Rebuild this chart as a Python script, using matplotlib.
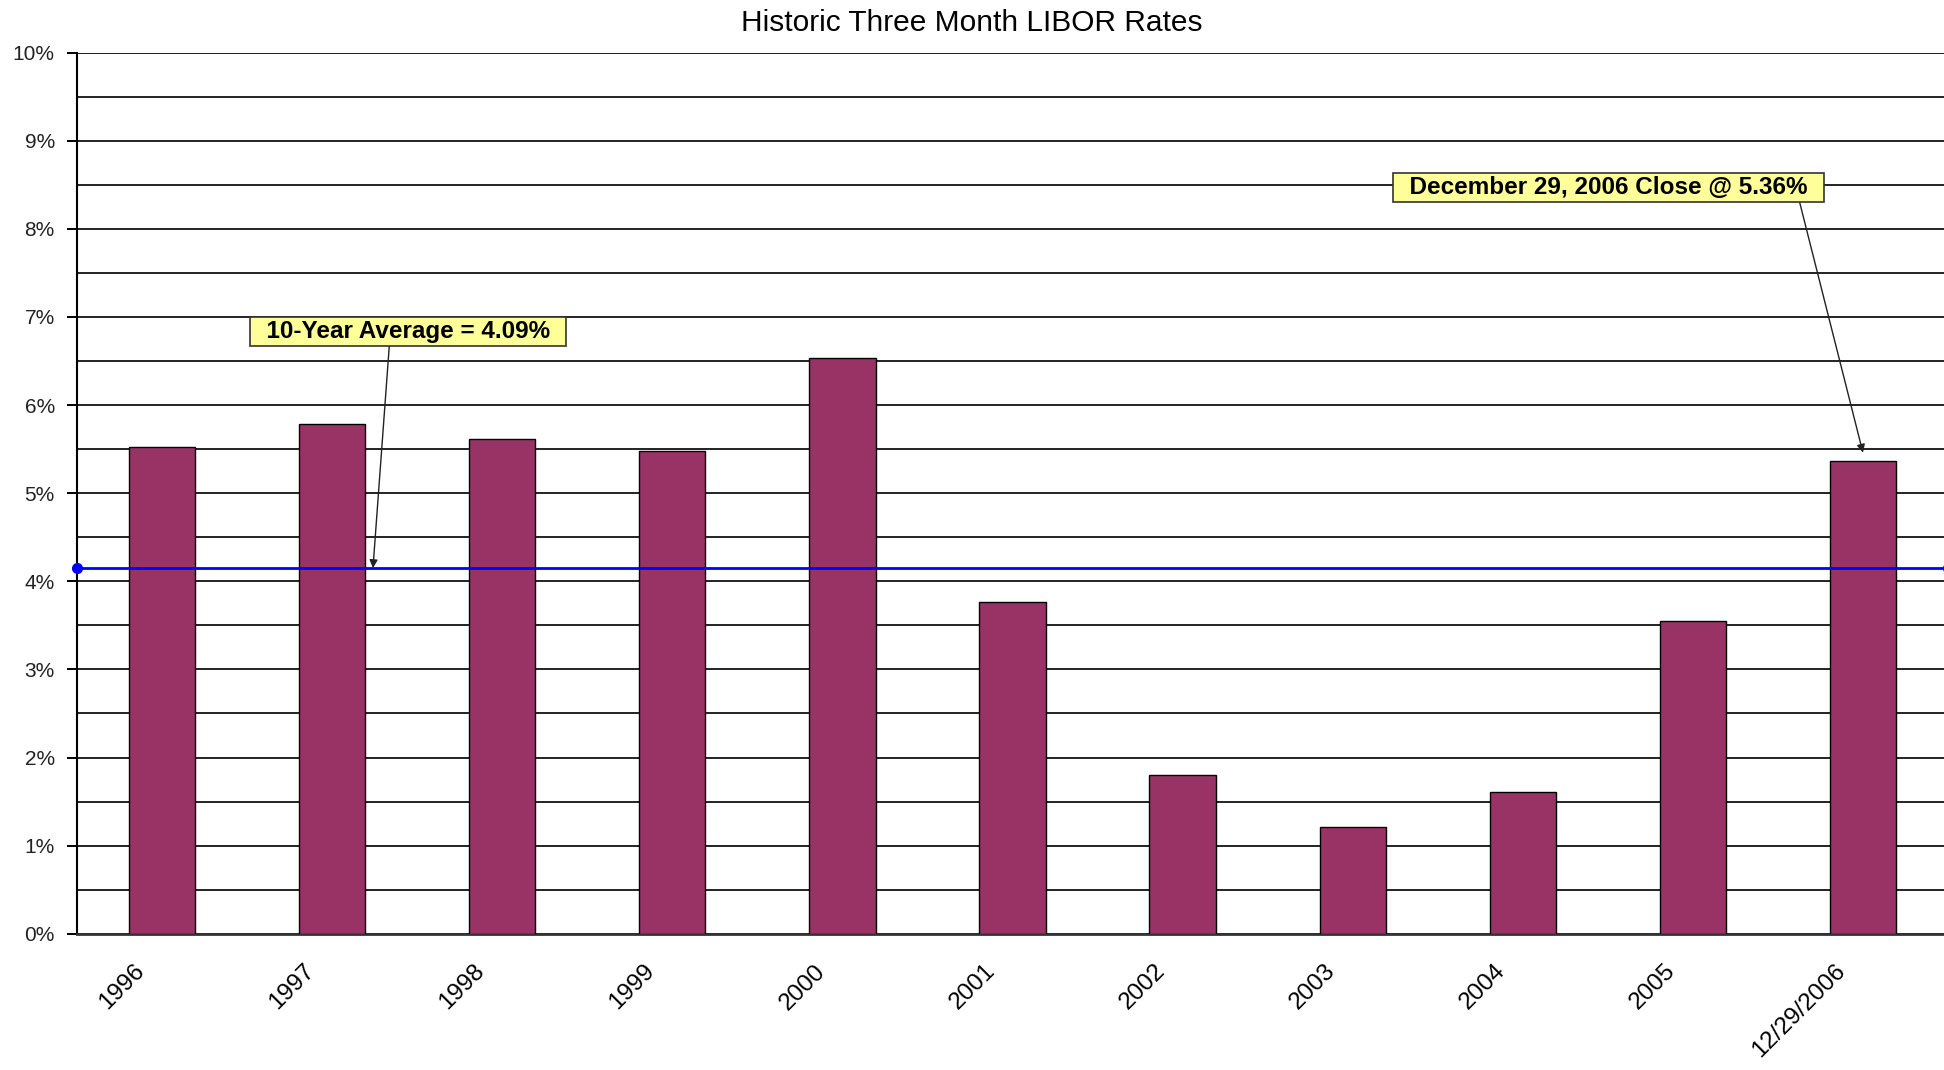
import matplotlib
matplotlib.use("Agg")
from matplotlib import pyplot as plt
from matplotlib.ticker import MultipleLocator, FuncFormatter
import matplotlib.transforms as mtransforms
import numpy as np

plt.rcParams['font.family'] = ['Liberation Sans', 'DejaVu Sans']

# data
years = ['1996', '1997', '1998', '1999', '2000', '2001', '2002', '2003', '2004', '2005', '12/29/2006']
rates = [5.53, 5.79, 5.61, 5.48, 6.54, 3.77, 1.80, 1.21, 1.61, 3.55, 5.36]
avg_rate = 4.15          # where the blue line sits on the chart
avg_label = '10-Year Average = 4.09%'
close_label = 'December 29, 2006 Close @ 5.36%'

bar_color = '#993366'

fig = plt.figure(figsize=(19.44, 10.70), dpi=100)
ax = fig.add_axes([77/1944, 136.3/1070, 1871/1944, 881/1070])

x = np.arange(len(years))
ax.bar(x, rates, width=0.39, color=bar_color, edgecolor='black', linewidth=1.0, zorder=3)

# average line with dots at both ends
ax.plot([-0.5, len(years) - 0.5], [avg_rate, avg_rate], color='#0000ff', lw=2.0,
        marker='o', markersize=7, zorder=4, clip_on=False)

ax.set_xlim(-0.5, len(years) - 0.5)
ax.set_ylim(0, 10)

# gridlines every half percent
ax.yaxis.set_major_locator(MultipleLocator(1))
ax.yaxis.set_minor_locator(MultipleLocator(0.5))
ax.yaxis.set_major_formatter(FuncFormatter(lambda v, p: '%d%%' % round(v)))
ax.grid(axis='y', which='both', color='#222222', lw=1.4)
ax.set_axisbelow(True)
gl = ax.yaxis.get_gridlines()
gl[-1].set_color('#999999')

for s in ['top', 'right']:
    ax.spines[s].set_visible(False)
ax.spines['left'].set_linewidth(1.5)
ax.spines['bottom'].set_color('#333333')
ax.spines['bottom'].set_linewidth(2)

ax.tick_params(axis='y', which='major', length=7, width=1.4, pad=9, labelsize=15, labelcolor='#222222')
ax.tick_params(axis='y', which='minor', length=0)
ax.tick_params(axis='x', length=0, pad=19, labelsize=17.5)

ax.set_xticks(x)
ax.set_xticklabels(years, rotation=45, ha='right', va='top')
offset = mtransforms.ScaledTranslation(-13/100, 0, fig.dpi_scale_trans)
for lab in ax.get_xticklabels():
    lab.set_transform(lab.get_transform() + offset)

fig.suptitle('Historic Three Month LIBOR Rates', y=1 - 23/1070, va='center', fontsize=21.5)

box = dict(boxstyle='square,pad=0.12', fc='#ffff99', ec='#333333', lw=1.2)
ax.annotate('  ' + avg_label + '  ', xy=(1.24, avg_rate), xytext=(1.447, 6.84),
            ha='center', va='center', fontsize=17.5, fontweight='bold', bbox=box, zorder=6,
            arrowprops=dict(arrowstyle='-|>', color='#222222', lw=1.0, mutation_scale=12,
                            relpos=(0.44, 0), shrinkA=0, shrinkB=0))
ax.annotate('  ' + close_label + '  ', xy=(10.0, 5.46), xytext=(8.506, 8.47),
            ha='center', va='center', fontsize=17.5, fontweight='bold', bbox=box, zorder=6,
            arrowprops=dict(arrowstyle='-|>', color='#222222', lw=1.0, mutation_scale=12,
                            relpos=(0.947, 0), shrinkA=0, shrinkB=0))

fig.savefig('out.png', dpi=100)
